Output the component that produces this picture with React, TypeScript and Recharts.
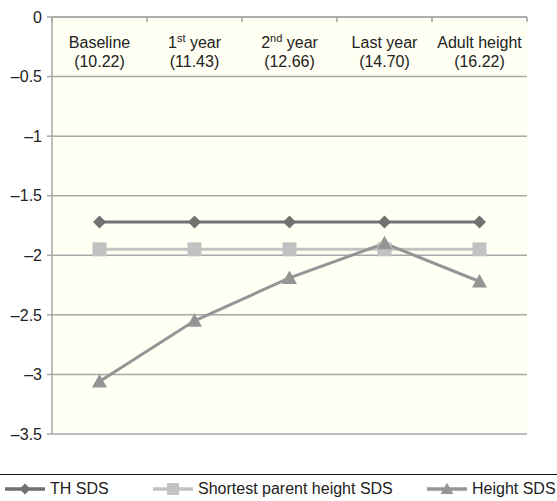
import React from 'react';
import { LineChart, Line, XAxis, YAxis, CartesianGrid, Legend } from 'recharts';

const categories = ['Baseline', '1st year', '2nd year', 'Last year', 'Adult height'];
const ages = ['10.22', '11.43', '12.66', '14.70', '16.22'];
const thSds = [-1.72, -1.72, -1.72, -1.72, -1.72];
const parentSds = [-1.95, -1.95, -1.95, -1.95, -1.95];
const heightSds = [-3.06, -2.55, -2.19, -1.9, -2.22];
const yTicks = [0, -0.5, -1, -1.5, -2, -2.5, -3, -3.5];

const data = categories.map((c, i) => ({
  x: i + 0.5,
  th: thSds[i],
  parent: parentSds[i],
  height: heightSds[i],
}));

const xTicks = [0, 0.5, 1, 1.5, 2, 2.5, 3, 3.5, 4, 4.5, 5];

const FONT = '"Liberation Sans", Arial, sans-serif';
const TOP = 17;
const TH_COLOR = '#717171';
const PARENT_COLOR = '#c2c2c2';
const HEIGHT_COLOR = '#959595';

const CategoryTick = (props: any) => {
  const { x, payload } = props;
  const v = payload.value;
  if (Number.isInteger(v)) {
    return <line x1={x} x2={x} y1={TOP} y2={TOP + 5} stroke="#a0a0a0" strokeWidth={1.5} />;
  }
  const idx = Math.floor(v);
  const name = categories[idx];
  const m = name.match(/^(\d)(st|nd|rd|th) (.*)$/);
  return (
    <g>
      <text x={x} y={TOP + 31} textAnchor="middle" fontSize={16} fontFamily={FONT} fill="#222">
        {m ? (
          <>
            <tspan>{m[1]}</tspan>
            <tspan fontSize={11} dy={-6}>{m[2]}</tspan>
            <tspan dy={6}>{' ' + m[3]}</tspan>
          </>
        ) : (
          name
        )}
      </text>
      <text x={x} y={TOP + 50} textAnchor="middle" fontSize={16} fontFamily={FONT} fill="#222">
        {'(' + ages[idx] + ')'}
      </text>
    </g>
  );
};

const Marker = ({ kind, cx, cy, color }: { kind: string; cx: number; cy: number; color: string }) => {
  if (kind === 'diamond') {
    const r = 6.5;
    return <polygon points={`${cx},${cy - r} ${cx + r},${cy} ${cx},${cy + r} ${cx - r},${cy}`} fill={color} />;
  }
  if (kind === 'square') {
    const r = 7;
    return <rect x={cx - r} y={cy - r} width={2 * r} height={2 * r} fill={color} />;
  }
  const r = 7.5;
  return <polygon points={`${cx},${cy - r} ${cx + r},${cy + r * 0.8} ${cx - r},${cy + r * 0.8}`} fill={color} />;
};

const makeDot = (kind: string, color: string) => (p: any) => (
  <Marker key={p.index} kind={kind} cx={p.cx} cy={p.cy} color={color} />
);

const legendItems = [
  { label: 'TH SDS', kind: 'diamond', color: TH_COLOR, left: 5 },
  { label: 'Shortest parent height SDS', kind: 'square', color: PARENT_COLOR, left: 153 },
  { label: 'Height SDS', kind: 'triangle', color: HEIGHT_COLOR, left: 427 },
];

const LegendContent = () => (
  <div style={{ position: 'relative', width: 557, height: 27, borderTop: '1.5px solid #111' }}>
    {legendItems.map((it) => (
      <div
        key={it.label}
        style={{ position: 'absolute', left: it.left, top: 3, display: 'flex', alignItems: 'center', height: 22 }}
      >
        <svg width={40} height={20}>
          <line x1={0} x2={40} y1={10} y2={10} stroke={it.color} strokeWidth={3.5} />
          <g transform="translate(20,10) scale(0.85) translate(-20,-10)">
            <Marker kind={it.kind} cx={20} cy={10} color={it.color} />
          </g>
        </svg>
        <span style={{ marginLeft: 5, fontSize: 16, fontFamily: FONT, color: '#222' }}>{it.label}</span>
      </div>
    ))}
  </div>
);

export default function App() {
  return (
    <div style={{ position: 'absolute', left: 0, top: 0, width: 557, height: 501, background: '#fff' }}>
      <LineChart width={557} height={501} data={data} margin={{ top: TOP - 1, right: 30, bottom: 40, left: 0 }}>
        <CartesianGrid horizontal vertical={false} stroke="#a8a8a8" strokeWidth={1.5} fill="#fffff3" />
        <XAxis
          dataKey="x"
          type="number"
          orientation="top"
          domain={[0, 5]}
          ticks={xTicks}
          interval={0}
          height={1}
          tickLine={false}
          axisLine={{ stroke: '#a8a8a8', strokeWidth: 1.5 }}
          tick={(p: any) => <CategoryTick {...p} />}
        />
        <YAxis
          type="number"
          domain={[-3.5, 0]}
          ticks={yTicks}
          interval={0}
          width={52}
          tickSize={5}
          tickMargin={5}
          axisLine={{ stroke: '#a8a8a8', strokeWidth: 1.5 }}
          tickLine={{ stroke: '#a8a8a8', strokeWidth: 1.5 }}
          tick={{ fontSize: 16, fontFamily: FONT, fill: '#222' }}
          tickFormatter={(v: number) => (v === 0 ? '0' : '\u2013' + Math.abs(v))}
        />
        <Line
          dataKey="th"
          stroke={TH_COLOR}
          strokeWidth={3}
          dot={makeDot('diamond', TH_COLOR)}
          activeDot={false}
          isAnimationActive={false}
        />
        <Line
          dataKey="parent"
          stroke={PARENT_COLOR}
          strokeWidth={3}
          dot={makeDot('square', PARENT_COLOR)}
          activeDot={false}
          isAnimationActive={false}
        />
        <Line
          dataKey="height"
          stroke={HEIGHT_COLOR}
          strokeWidth={3}
          dot={makeDot('triangle', HEIGHT_COLOR)}
          activeDot={false}
          isAnimationActive={false}
        />
        <Legend
          verticalAlign="bottom"
          content={<LegendContent />}
          wrapperStyle={{ left: 0, bottom: 0, width: 557, height: 27 }}
        />
      </LineChart>
    </div>
  );
}
